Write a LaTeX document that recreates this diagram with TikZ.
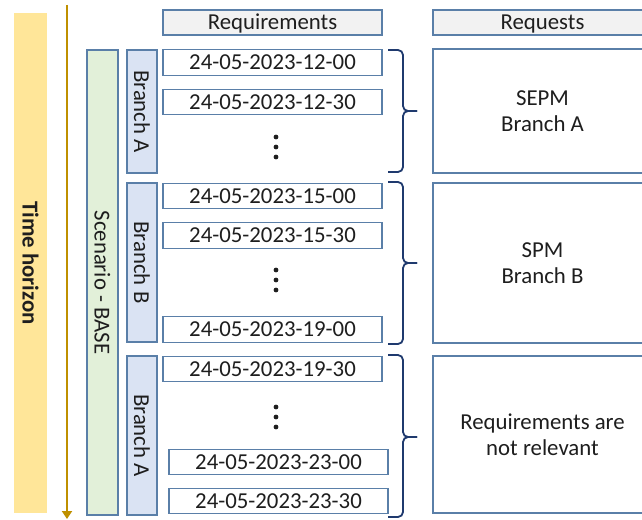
\documentclass[tikz,border=0pt]{standalone}
\usepackage{fontspec}
\setmainfont{Carlito}
\usetikzlibrary{arrows.meta}
\definecolor{edgeblue}{HTML}{5A7FA8}
\definecolor{branchfill}{HTML}{DAE3F3}
\definecolor{scenfill}{HTML}{E2F0D9}
\definecolor{timefill}{HTML}{FFE699}
\definecolor{headfill}{HTML}{F2F2F2}
\definecolor{bracecol}{HTML}{1F3A6E}
\definecolor{arrowcol}{HTML}{BF9000}
\definecolor{txt}{HTML}{1E1E1E}
\tikzset{
  box/.style={draw=edgeblue, line width=1.3pt, inner sep=0pt, text=txt,
    font=\fontsize{22.8}{26}\selectfont},
  datebox/.style={box, fill=white, minimum width=219pt, minimum height=25.5pt},
  headbox/.style={box, fill=headfill, minimum width=219pt, minimum height=25pt,
    text height=16pt, text depth=2pt},
  reqbox/.style={box, fill=white, minimum width=219pt, align=center},
  branchbox/.style={box, fill=branchfill, rotate=-90, minimum height=30pt},
  scenbox/.style={box, fill=scenfill, rotate=-90, minimum height=31pt},
  timebar/.style={fill=timefill, rotate=-90, minimum height=33pt, inner sep=0pt,
    text=txt, font=\fontsize{22.8}{26}\selectfont\bfseries},
  dotmark/.style={circle, fill=txt, inner sep=0pt, minimum size=4.8pt},
  bracket/.style={draw=bracecol, line width=1.8pt, rounded corners=5pt},
}
\begin{document}
\begin{tikzpicture}[x=1pt, y=-1pt]
\useasboundingbox (0,0) rectangle (642,519);
\clip (0,0) rectangle (642,519);

% time axis
\node[timebar, minimum width=500pt] (time) at (30.5,263) {Time horizon};
\coordinate (ttop) at (67,5);
\coordinate (tbot) at (67,519);
\draw[arrowcol, line width=2.6pt, -{Triangle[length=8pt,width=10pt]}] (ttop) -- (tbot);

% scenario and branches
\node[scenbox, minimum width=465pt] (scen) at (102.5,282.5) {Scenario - BASE};
\node[branchbox, minimum width=123pt] (brA1) at (142,111.5) {Branch A};
\node[branchbox, minimum width=159pt] (brB)  at (142,262.5) {Branch B};
\node[branchbox, minimum width=159pt] (brA2) at (142,435.5) {Branch A};

% column headers
\node[headbox] (hreq)  at (272.5,22.5) {Requirements};
\node[headbox] (hreqs) at (542.5,22.5) {Requests};

% requirement time stamps
\node[datebox] (d1) at (272.5,62.5)  {24-05-2023-12-00};
\node[datebox] (d2) at (272.5,102)   {24-05-2023-12-30};
\node[datebox] (d3) at (272.5,196)   {24-05-2023-15-00};
\node[datebox] (d4) at (272.5,235.5) {24-05-2023-15-30};
\node[datebox] (d5) at (272.5,329.5) {24-05-2023-19-00};
\node[datebox] (d6) at (272.5,369)   {24-05-2023-19-30};
\node[datebox] (d7) at (278.5,462)   {24-05-2023-23-00};
\node[datebox] (d8) at (278.5,501)   {24-05-2023-23-30};

% vertical ellipses
\foreach \n/\y in {a/137,b/147,c/157,d/270,e/280,f/290,g/407,h/417,i/427}
  \node[dotmark] (dot\n) at (276,\y) {};

% request boxes
\node[reqbox, minimum height=124pt] (r1) at (542.5,111)   {SEPM\\Branch A};
\node[reqbox, minimum height=160pt] (r2) at (542.5,263)   {SPM\\Branch B};
\node[reqbox, minimum height=157pt] (r3) at (542.5,434.5) {Requirements are\\not relevant};

% curly braces grouping the time stamps (top end, middle tip, bottom end)
\foreach \k/\t/\m/\b in {1/50/111/172, 2/182/263/344, 3/355/437/517}{
  \coordinate (br\k t) at (388,\t);
  \coordinate (br\k m) at (403,\m);
  \coordinate (br\k b) at (388,\b);
  \coordinate (br\k tip) at (417,\m);
  \draw[bracket] (br\k t) -- (br\k t -| br\k m) -- (br\k m) -- (br\k tip);
  \draw[bracket] (br\k tip) -- (br\k m) -- (br\k b -| br\k m) -- (br\k b);
}
\end{tikzpicture}
\end{document}
